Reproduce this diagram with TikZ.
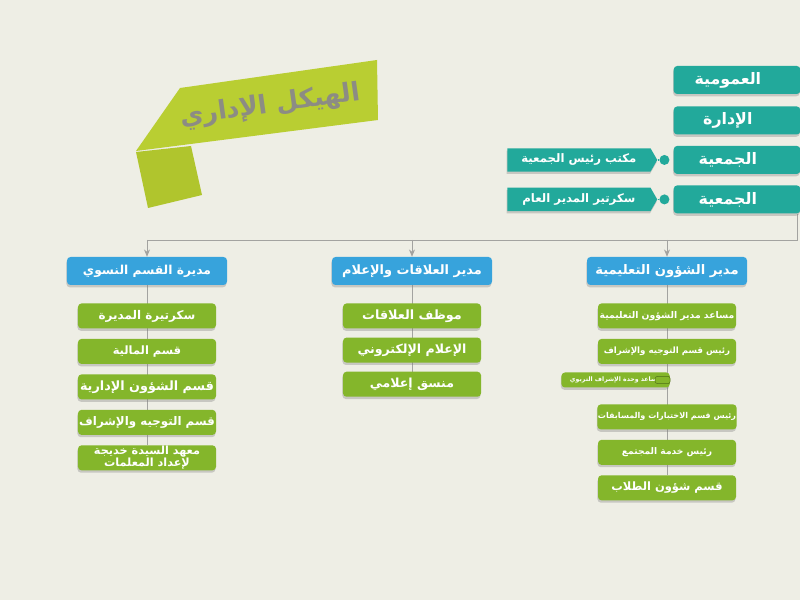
\documentclass[tikz,border=0pt]{standalone}
\usepackage{fontspec}
\usepackage{xcolor}
\usepackage{tikz}
\usetikzlibrary{arrows.meta,positioning,shapes.symbols,shadows,backgrounds}
\newfontfamily\arabicfont[Script=Arabic]{DejaVu Sans}
\TeXXeTstate=1
\definecolor{paper}{HTML}{EEEEE5}
\definecolor{tealbox}{HTML}{22A99B}
\definecolor{bluebox}{HTML}{37A3DC}
\definecolor{greenbox}{HTML}{84B62B}
\definecolor{greendark}{HTML}{4E6E18}
\definecolor{lime}{HTML}{B9CE32}
\definecolor{limedark}{HTML}{B0C52D}
\definecolor{titlegray}{HTML}{8C8C84}
\definecolor{linegray}{HTML}{A3A3A0}
\tikzset{
  shade/.style={drop shadow={opacity=0.35, shadow xshift=-0.5pt, shadow yshift=-2pt}},
  head/.style={fill=bluebox, rounded corners=3pt, minimum width=4.8cm, minimum height=0.84cm,
               text=white, inner sep=1pt, shade, font=\arabicfont\bfseries\fontsize{11}{13}\selectfont},
  unit/.style={fill=greenbox, rounded corners=3pt, minimum width=4.14cm, minimum height=0.75cm,
               text=white, inner sep=0.5pt, shade, font=\arabicfont\bfseries\fontsize{10.5}{12}\selectfont},
  board/.style={fill=tealbox, rounded corners=3pt, minimum width=3.8cm, minimum height=0.84cm,
                text=white, inner sep=1pt, shade, execute at end node={\hspace{0.55cm}},
                font=\arabicfont\bfseries\fontsize{13.5}{15}\selectfont},
  office/.style={signal, signal to=east, signal pointer angle=120, fill=tealbox,
                 minimum width=4.5cm, minimum height=0.7cm, text=white, inner sep=1pt, shade,
                 font=\arabicfont\bfseries\fontsize{10}{12}\selectfont},
  dot/.style={circle, fill=tealbox, minimum size=0.3cm, inner sep=0pt},
  knob/.style={draw=greendark, fill=greenbox, rounded corners=2pt, minimum width=0.45cm,
               minimum height=0.22cm, inner sep=0pt},
  title/.style={text=titlegray, font=\arabicfont\bfseries\fontsize{22}{26}\selectfont},
  link/.style={draw=linegray, line width=0.7pt},
  drop/.style={link, -{Stealth[length=2.2mm, width=1.8mm]}},
}
\newcommand{\artext}[1]{\beginR#1\endR}
\newcommand{\arsize}[1]{\arabicfont\bfseries\fontsize{#1}{#1}\selectfont}

\begin{document}
\begin{tikzpicture}[x=0.03cm, y=-0.03cm, node distance=0.3cm]
  \useasboundingbox (0,0) rectangle (800,600);
  \begin{scope}[on background layer]
    \fill[paper] (0,0) rectangle (800,600);
  \end{scope}

  % title ribbon
  \fill[limedark] (136,152) -- (191,146) -- (202,195) -- (148,208) -- cycle;
  \fill[lime] (180,88) -- (377,60) -- (378,120) -- (136,151) -- cycle;
  \node[title, rotate=8] (title) at (270,106) {\artext{الهيكل الإداري}};

  % general assembly
  \node[board] (t1) at (737,80) {\artext{العمومية}};
  \node[board, below=0.36cm of t1] (t2) {\artext{الإدارة}};
  \node[board, below=0.33cm of t2] (t3) {\artext{الجمعية}};
  \node[board, below=0.33cm of t3] (t4) {\artext{الجمعية}};
  \node[dot] (k1) at ([xshift=-0.27cm]t3.west) {};
  \node[dot] (k2) at ([xshift=-0.27cm]t4.west) {};
  \node[office, left=0.05cm of k1] (o1) {\artext{مكتب رئيس الجمعية}};
  \node[office, left=0.05cm of k2] (o2) {\artext{سكرتير المدير العام}};
  \draw[tealbox, line width=1pt] (o1.east) -- (k1);
  \draw[tealbox, line width=1pt] (o2.east) -- (k2);

  % directors
  \node[head, font=\arsize{10.5}] (d1) at (147,271) {\artext{مديرة القسم النسوي}};
  \node[head] (d2) at (412,271) {\artext{مدير العلاقات والإعلام}};
  \node[head, font=\arsize{11.2}] (d3) at (667,271) {\artext{مدير الشؤون التعليمية}};

  % women's section
  \node[unit, below=0.54cm of d1, font=\arsize{10.2}] (l1) {\artext{سكرتيرة المديرة}};
  \node[unit, below=of l1, font=\arsize{9.8}] (l2) {\artext{قسم المالية}};
  \node[unit, below=of l2, font=\arsize{10.9}] (l3) {\artext{قسم الشؤون الإدارية}};
  \node[unit, below=of l3, font=\arsize{10.1}] (l4) {\artext{قسم التوجيه والإشراف}};
  \node[unit, below=of l4, align=center, font=\arabicfont\bfseries\fontsize{9.6}{9.4}\selectfont]
    (l5) {\artext{معهد السيدة خديجة}\\\artext{لإعداد المعلمات}};

  % relations and media
  \node[unit, below=0.54cm of d2, font=\arsize{10.9}] (m1) {\artext{موظف العلاقات}};
  \node[unit, below=0.26cm of m1, font=\arsize{10.7}] (m2) {\artext{الإعلام الإلكتروني}};
  \node[unit, below=0.26cm of m2, font=\arsize{10.7}] (m3) {\artext{منسق إعلامي}};

  % educational affairs
  \node[unit, below=0.54cm of d3, font=\arsize{7.9}] (r1) {\artext{مساعد مدير الشؤون التعليمية}};
  \node[unit, below=of r1, font=\arsize{7.4}] (r2) {\artext{رئيس قسم التوجيه والإشراف}};
  \node[unit, anchor=east, minimum width=3.25cm, minimum height=0.45cm, font=\arsize{5.3}]
    (r0) at (670,380) {\artext{مساعد وحدة الإشراف التربوي}\hspace{0.5cm}};
  \node[knob] (p0) at ([xshift=-0.22cm]r0.east) {};
  \node[unit, below=1.2cm of r2, font=\arsize{6.9}] (r3) {\artext{رئيس قسم الاختبارات والمسابقات}};
  \node[unit, below=of r3, font=\arsize{7.8}] (r4) {\artext{رئيس خدمة المجتمع}};
  \node[unit, below=of r4, font=\arsize{9.8}] (r5) {\artext{قسم شؤون الطلاب}};

  % connectors
  \coordinate (bus) at (797,240);
  \begin{scope}[on background layer]
    \draw[link] (t4.south -| bus) -- (bus) -- (bus -| d1.north);
    \draw[link] (d1) -- (l5);
    \draw[link] (d2) -- (m3);
    \draw[link] (d3) -- (r5);
  \end{scope}
  \draw[drop] (bus -| d1.north) -- (d1);
  \draw[drop] (bus -| d2.north) -- (d2);
  \draw[drop] (bus -| d3.north) -- (d3);
\end{tikzpicture}
\end{document}
